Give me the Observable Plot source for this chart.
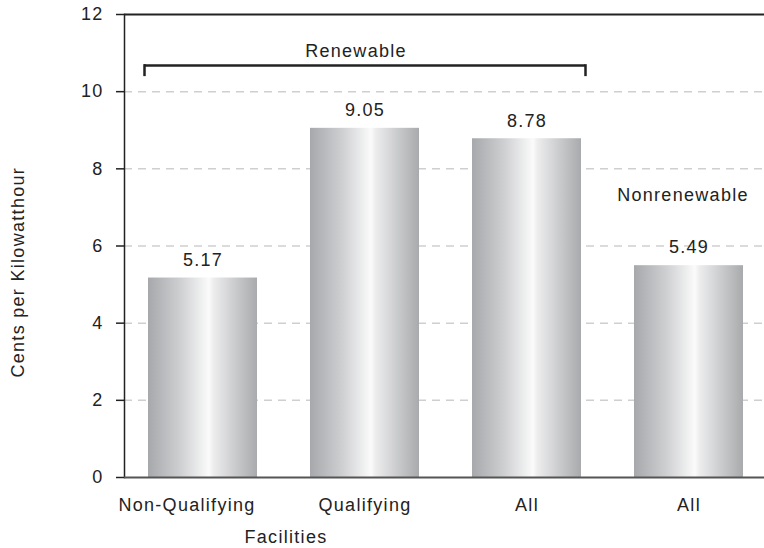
<!DOCTYPE html>
<html>
<head>
<meta charset="utf-8">
<script src="https://cdn.jsdelivr.net/npm/d3@7"></script>
<script src="https://cdn.jsdelivr.net/npm/@observablehq/plot@0.6"></script>
<style>
  html, body { margin: 0; padding: 0; background: #fff; }
  #chart svg { display: block; letter-spacing: 1.3px; }
</style>
</head>
<body>
<div id="chart"></div>
<script>
// Average price paid, cents per kilowatthour, by facility type
const categories = ["Non-Qualifying", "Qualifying", "Renewable All", "Nonrenewable All"];
const tickLabels = ["Non-Qualifying", "Qualifying", "All", "All"];
const values = [5.17, 9.05, 8.78, 5.49];
const yTicks = [0, 2, 4, 6, 8, 10, 12];
const gridTicks = [2, 4, 6, 8, 10];
const groupLabels = ["Renewable", "Nonrenewable"];
const renewableSpan = ["Non-Qualifying", "Renewable All"];

const bars = categories.map((c, i) => ({category: c, value: values[i], label: values[i].toFixed(2)}));
const labelOf = new Map(categories.map((c, i) => [c, tickLabels[i]]));

const font = "Liberation Sans, Arial, sans-serif";
const ink = "#222";
const fs = 18;

const xAxisStyle = {tickSize: 0, tickPadding: 21, fontSize: fs, fill: ink, label: null, tickFormat: d => labelOf.get(d)};

const chart = Plot.plot({
  width: 764,
  height: 548,
  marginLeft: 124,
  marginRight: 0,
  marginTop: 14,
  marginBottom: 71,
  style: {fontFamily: font, fontSize: fs + "px", color: ink, background: "#fff"},
  x: {
    domain: categories,
    range: [121.5, 769.5],
    paddingInner: 0.327,
    paddingOuter: 0.1635,
    axis: null
  },
  y: {domain: [0, 12], axis: null},
  marks: [
    // dashed gridlines
    Plot.ruleY(gridTicks, {stroke: "#cfcfcf", strokeWidth: 1.5, strokeDasharray: "8,6"}),
    // bars with metallic gradient
    Plot.barY(bars, {x: "category", y: "value", fill: "url(#barShade)"}),
    // value labels
    Plot.text(bars, {x: "category", y: "value", text: "label", dy: -18, fill: ink, fontSize: fs}),
    // frame: top line, left axis, baseline
    Plot.ruleY([12], {stroke: ink, strokeWidth: 2}),
    Plot.frame({anchor: "left", stroke: ink, strokeWidth: 1.5}),
    Plot.ruleY([0], {stroke: "#555", strokeWidth: 2}),
    // y axis ticks and labels
    Plot.axisY(yTicks, {
      tickSize: 8, tickPadding: 13, stroke: ink, strokeWidth: 1.5,
      fontSize: fs, fill: ink, label: null, tickFormat: d => d
    }),
    // x axis labels (the first one sits a little left of its bar)
    Plot.axisX(categories.slice(0, 1), {...xAxisStyle, dx: -16}),
    Plot.axisX(categories.slice(1), {...xAxisStyle, dx: 0}),
    // Renewable bracket
    Plot.ruleY([{y: 10.675}], {y: "y", x1: () => renewableSpan[0], x2: () => renewableSpan[1], insetLeft: -4, insetRight: -4, stroke: ink, strokeWidth: 2.5}),
    Plot.ruleX([renewableSpan[0]], {y1: 10.39, y2: 10.7, dx: -58.5, stroke: ink, strokeWidth: 2.5}),
    Plot.ruleX([renewableSpan[1]], {y1: 10.39, y2: 10.7, dx: 58.5, stroke: ink, strokeWidth: 2.5}),
    Plot.text([groupLabels[0]], {x: () => "Qualifying", y: () => 11.04, text: d => d, dx: -9, fill: ink, fontSize: fs}),
    Plot.text([groupLabels[1]], {x: () => "Nonrenewable All", y: () => 7.32, text: d => d, dx: -6, fill: ink, fontSize: fs}),
    // axis titles
    Plot.text(["Facilities"], {x: () => "Qualifying", y: () => -1.56, text: d => d, dx: -79, fill: ink, fontSize: fs}),
    Plot.text(["Cents per Kilowatthour"], {frameAnchor: "left", textAnchor: "middle", y: () => 5.32, text: d => d, rotate: -90, dx: -106, fill: ink, fontSize: fs, letterSpacing: "1.8px"})
  ]
});

// horizontal shading used by the bars
const defs = d3.select(chart).insert("defs", ":first-child");
const grad = defs.append("linearGradient")
  .attr("id", "barShade")
  .attr("x1", 0).attr("x2", 1).attr("y1", 0).attr("y2", 0);
[
  [0, "#a6a8ab"],
  [0.3, "#cfd0d2"],
  [0.56, "#fbfbfb"],
  [0.6, "#ededee"],
  [1, "#a8aaad"]
].forEach(([o, c]) => grad.append("stop").attr("offset", o).attr("stop-color", c));

document.getElementById("chart").append(chart);
</script>
</body>
</html>
